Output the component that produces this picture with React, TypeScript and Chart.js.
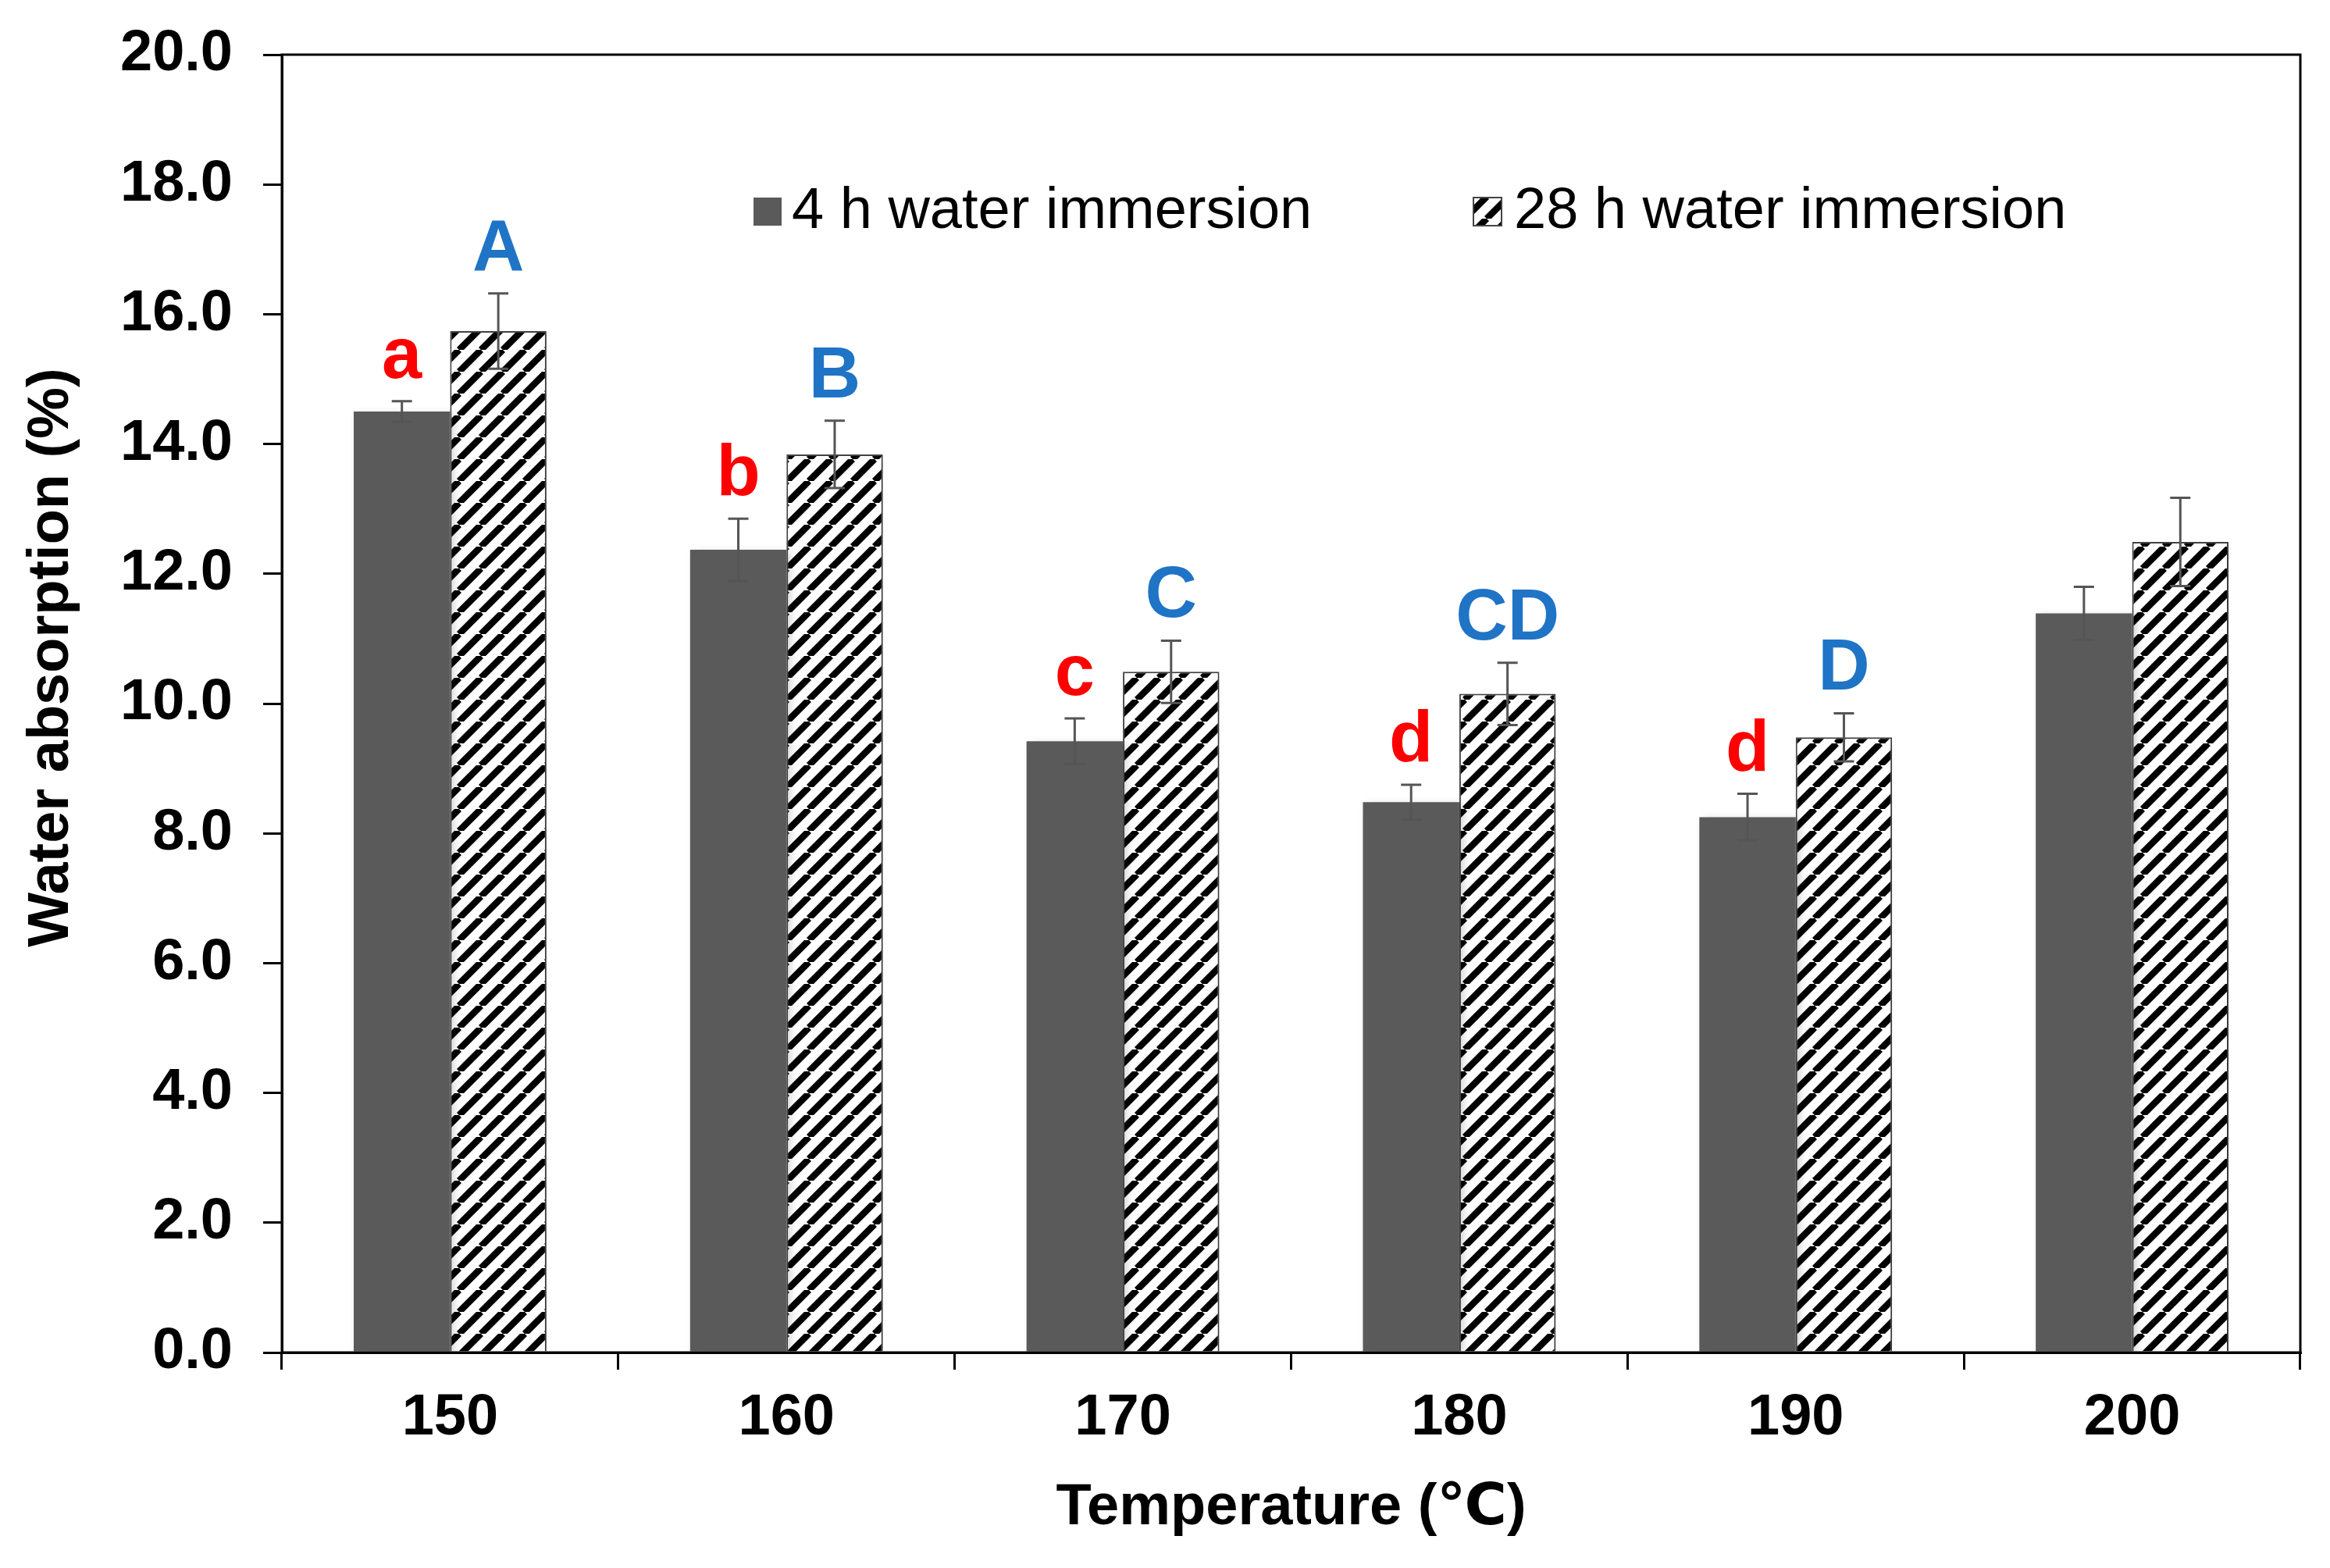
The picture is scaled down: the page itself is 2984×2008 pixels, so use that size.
import React, { useEffect, useRef } from "react";
import { Chart, registerables } from "chart.js";

Chart.register(...registerables);

// ---- data ----
const categories = ["150", "160", "170", "180", "190", "200"];
const series4hLabel = "4 h water immersion";
const series28hLabel = "28 h water immersion";
const values4h = [14.5, 12.37, 9.42, 8.48, 8.25, 11.39];
const errors4h = [0.16, 0.48, 0.35, 0.27, 0.36, 0.41];
const values28h = [15.74, 13.84, 10.49, 10.15, 9.48, 12.49];
const errors28h = [0.58, 0.52, 0.48, 0.48, 0.37, 0.68];
const letters4h = ["a", "b", "c", "d", "d", ""];
const letters28h = ["A", "B", "C", "CD", "D", ""];
const yTitle = "Water absorption (%)";
const xTitle = "Temperature (\u2103)";

const FONT = "'Liberation Sans', Arial, 'DejaVu Sans', sans-serif";
const RED = "#ff0000";
const BLUE = "#1f74c6";
const DARK = "#5a5a5a";

function makeHatch(ctx: CanvasRenderingContext2D): CanvasPattern {
  const P = 28;
  const c = document.createElement("canvas");
  c.width = P;
  c.height = P;
  const g = c.getContext("2d")!;
  g.fillStyle = "#ffffff";
  g.fillRect(0, 0, P, P);
  g.strokeStyle = "#000000";
  g.lineWidth = 8.5;
  g.beginPath();
  for (let k = -1; k <= 1; k++) {
    g.moveTo(k * P, P);
    g.lineTo(k * P + P, 0);
  }
  g.stroke();
  return ctx.createPattern(c, "repeat")!;
}

const decorPlugin = {
  id: "decor",
  beforeDatasetsDraw(chart: any) {
    const ctx = chart.ctx as CanvasRenderingContext2D;
    ctx.save();
    ctx.shadowColor = "rgba(0,0,0,0.18)";
    ctx.shadowBlur = 10;
    ctx.shadowOffsetX = 5;
    ctx.shadowOffsetY = 3;
  },
  afterDatasetsDraw(chart: any) {
    const ctx = chart.ctx as CanvasRenderingContext2D;
    ctx.restore();
    const y = chart.scales.y;
    const sets = [
      { v: values4h, e: errors4h, l: letters4h, c: RED },
      { v: values28h, e: errors28h, l: letters28h, c: BLUE },
    ];
    sets.forEach((s, di) => {
      const meta = chart.getDatasetMeta(di);
      meta.data.forEach((bar: any, i: number) => {
        const x = bar.x;
        const top = y.getPixelForValue(s.v[i] + s.e[i]);
        const bot = y.getPixelForValue(s.v[i] - s.e[i]);
        ctx.save();
        ctx.strokeStyle = "#555555";
        ctx.lineWidth = 3;
        ctx.beginPath();
        ctx.moveTo(x, top);
        ctx.lineTo(x, bot);
        ctx.moveTo(x - 13, top);
        ctx.lineTo(x + 13, top);
        ctx.moveTo(x - 13, bot);
        ctx.lineTo(x + 13, bot);
        ctx.stroke();
        if (s.l[i]) {
          ctx.fillStyle = s.c;
          ctx.font = `bold 92px ${FONT}`;
          ctx.textAlign = "center";
          ctx.textBaseline = "alphabetic";
          ctx.fillText(s.l[i], x, top - 30);
        }
        ctx.restore();
      });
    });
  },
  afterDraw(chart: any) {
    const ctx = chart.ctx as CanvasRenderingContext2D;
    const a = chart.chartArea;
    ctx.save();
    // frame
    ctx.strokeStyle = "#000000";
    ctx.lineWidth = 3;
    ctx.strokeRect(a.left, a.top, a.right - a.left, a.bottom - a.top);

    // legend
    const ds = chart.data.datasets;
    const items = [
      { boxX: 965, textX: 1014 },
      { boxX: 1887, textX: 1939 },
    ];
    const cy = 270;
    ctx.font = `74px ${FONT}`;
    ctx.textAlign = "left";
    ctx.textBaseline = "middle";
    items.forEach((it, i) => {
      ctx.fillStyle = ds[i].backgroundColor;
      ctx.fillRect(it.boxX, cy - 17, 36, 36);
      if (i === 1) {
        ctx.strokeStyle = "#444444";
        ctx.lineWidth = 2;
        ctx.strokeRect(it.boxX, cy - 17, 36, 36);
      }
      ctx.fillStyle = "#000000";
      ctx.fillText(ds[i].label, it.textX, cy + 2);
    });

    // y axis title
    ctx.translate(67, (a.top + a.bottom) / 2 - 59);
    ctx.rotate(-Math.PI / 2);
    ctx.font = `bold 74px ${FONT}`;
    ctx.textAlign = "center";
    ctx.textBaseline = "middle";
    ctx.fillStyle = "#000000";
    ctx.fillText(yTitle, 0, 0);
    ctx.restore();
  },
};

export default function App() {
  const ref = useRef<HTMLCanvasElement | null>(null);

  useEffect(() => {
    document.body.style.margin = "0";
    document.body.style.background = "#ffffff";
    const canvas = ref.current!;
    const ctx = canvas.getContext("2d")!;
    const hatch = makeHatch(ctx);
    const tickFont = { family: FONT, size: 74, weight: "bold" as const };
    const yTickFont = { family: FONT, size: 74, weight: "bold" as const, lineHeight: 0.8 };

    const chart = new Chart(canvas, {
      type: "bar",
      data: {
        labels: categories,
        datasets: [
          {
            label: series4hLabel,
            data: values4h,
            backgroundColor: DARK,
            borderWidth: 0,
            categoryPercentage: 0.573,
            barPercentage: 1,
          },
          {
            label: series28hLabel,
            data: values28h,
            backgroundColor: hatch as any,
            borderColor: "#444444",
            borderWidth: 2,
            categoryPercentage: 0.573,
            barPercentage: 1,
          },
        ],
      },
      options: {
        responsive: false,
        animation: false,
        devicePixelRatio: 1,
        layout: { padding: { top: 70, right: 38, left: 0, bottom: 0 } },
        plugins: {
          legend: { display: false },
          tooltip: { enabled: false },
        },
        scales: {
          x: {
            grid: {
              offset: true,
              drawOnChartArea: false,
              drawTicks: true,
              tickLength: 22,
              color: "#000000",
              lineWidth: 3,
            },
            border: { display: true, color: "#000000", width: 3 },
            ticks: { font: tickFont, color: "#000000", padding: 18, maxRotation: 0 },
            title: {
              display: true,
              text: xTitle,
              font: tickFont,
              color: "#000000",
              padding: { top: 0, bottom: 32 },
            },
            afterFit: (s: any) => {
              s.height = 276;
            },
          },
          y: {
            min: 0,
            max: 20,
            ticks: {
              stepSize: 2,
              callback: (v: any) => Number(v).toFixed(1),
              font: yTickFont,
              color: "#000000",
              padding: 39,
            },
            grid: {
              drawOnChartArea: false,
              drawTicks: true,
              tickLength: 24,
              color: "#000000",
              lineWidth: 3,
            },
            border: { display: true, color: "#000000", width: 3 },
            afterFit: (s: any) => {
              s.width = 361;
            },
          },
        },
      },
      plugins: [decorPlugin],
    });
    return () => chart.destroy();
  }, []);

  return <canvas ref={ref} width={2984} height={2008} style={{ display: "block" }} />;
}
